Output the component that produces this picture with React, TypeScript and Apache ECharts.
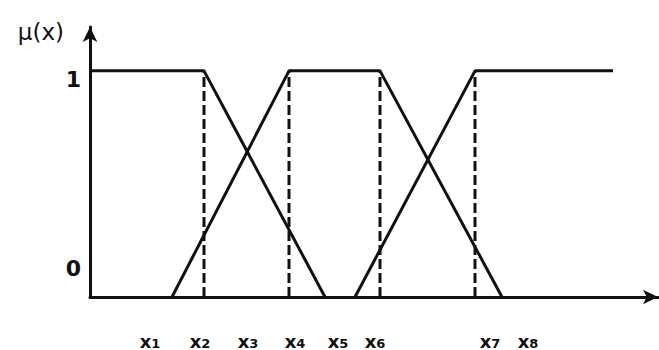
import React, { useEffect, useRef } from "react";
import * as echarts from "echarts";

// membership functions (x in chart units, y = membership degree)
const leftShoulder: [number, number][] = [[0, 1], [114, 1], [235, 0]];
const middleTrap: [number, number][] = [[82, 0], [199, 1], [290, 1], [412, 0]];
const rightShoulder: [number, number][] = [[265, 0], [385, 1], [523, 1]];
const dashedAt: number[] = [114, 199, 290, 385];

// x-axis labels (x with subscript index)
const xLabelIdx: string[] = ["1", "2", "3", "4", "5", "6", "7", "8"];
const xLabelPos: number[] = [60, 110, 158, 205, 248, 285, 400, 438];
// y-axis labels
const yLabelNames: string[] = ["0", "1"];
const yLabelPos: number[] = [0.128, 0.96];

const X_MAX = 568;
const Y_MAX = 1.194;

export default function App() {
  const ref = useRef<HTMLDivElement>(null);
  useEffect(() => {
    document.body.style.margin = "0";
    const chart = echarts.init(ref.current!, undefined, { renderer: "svg" });
    const black = "#111";
    const solid = (data: [number, number][]) => ({
      type: "line",
      data,
      symbol: "none",
      clip: false,
      lineStyle: { color: black, width: 3 },
    });
    const dashed = dashedAt.map((x) => ({
      type: "line",
      data: [[x, 0], [x, 1]],
      symbol: "none",
      clip: false,
      lineStyle: { color: black, width: 3, type: [10, 4] },
    }));
    chart.setOption({
      animation: false,
      grid: { left: 90, right: 1, top: 27, bottom: 52 },
      xAxis: {
        type: "value",
        min: 0,
        max: X_MAX,
        splitLine: { show: false },
        axisTick: { show: false },
        axisLine: {
          show: true,
          symbol: ["none", "arrow"],
          symbolSize: [11, 15],
          lineStyle: { color: black, width: 3 },
        },
        axisLabel: {
          customValues: xLabelPos,
          formatter: (v: number) => {
            const i = xLabelPos.findIndex((p) => Math.abs(p - v) < 0.5);
            return i >= 0 ? "{x|x}{d|" + xLabelIdx[i] + "}" : "";
          },
          margin: 33,
          color: black,
          rich: {
            x: {
              fontSize: 18,
              fontWeight: "bold",
              fontFamily: "DejaVu Sans",
              color: black,
              lineHeight: 20,
              verticalAlign: "bottom",
            },
            d: {
              fontSize: 13,
              fontWeight: "bold",
              fontFamily: "DejaVu Sans",
              color: black,
              lineHeight: 20,
              verticalAlign: "bottom",
              padding: [5, 0, 0, 0],
            },
          },
        },
      },
      yAxis: {
        type: "value",
        min: 0,
        max: Y_MAX,
        name: "μ(x)",
        nameLocation: "end",
        nameGap: -5,
        nameTextStyle: {
          fontSize: 23,
          fontFamily: "DejaVu Sans",
          color: black,
          align: "right",
          verticalAlign: "middle",
          padding: [0, 26, 0, 0],
        },
        splitLine: { show: false },
        axisTick: { show: false },
        axisLine: {
          show: true,
          symbol: ["none", "arrow"],
          symbolSize: [11, 15],
          lineStyle: { color: black, width: 3 },
        },
        axisLabel: {
          customValues: yLabelPos,
          formatter: (v: number) => {
            const i = yLabelPos.findIndex((p) => Math.abs(p - v) < 0.01);
            return i >= 0 ? yLabelNames[i] : "";
          },
          margin: 9,
          fontSize: 22,
          fontWeight: "bold",
          fontFamily: "DejaVu Sans",
          color: black,
        },
      },
      series: [solid(leftShoulder), solid(middleTrap), solid(rightShoulder), ...dashed],
    });
    return () => chart.dispose();
  }, []);
  return <div ref={ref} style={{ width: 659, height: 350 }} />;
}
